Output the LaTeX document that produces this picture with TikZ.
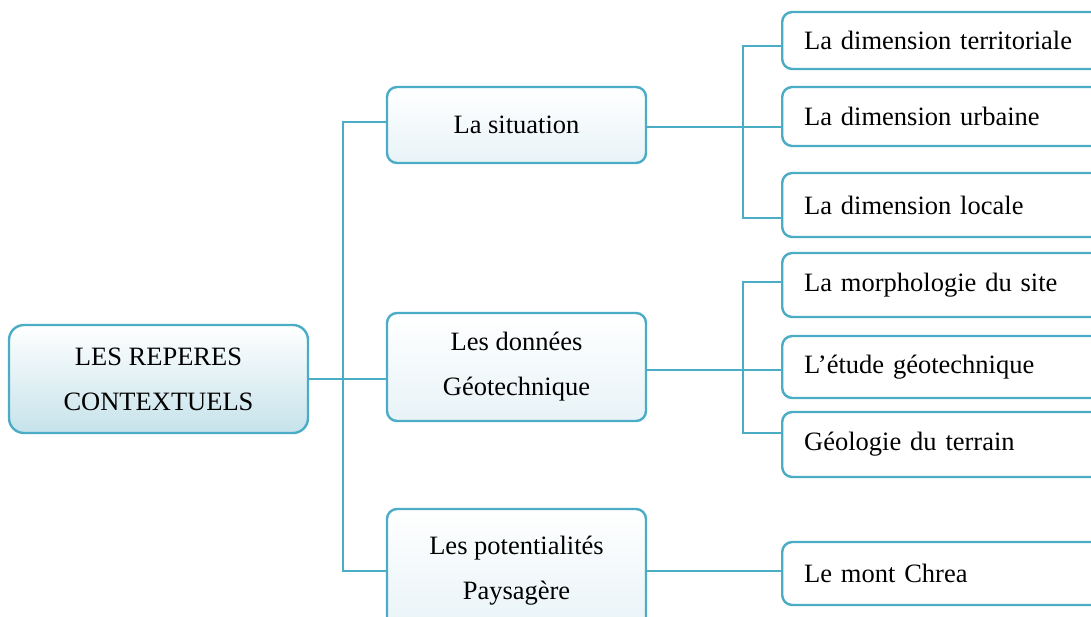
\documentclass[tikz,border=0pt]{standalone}
\usepackage{fontspec}
\setmainfont{Liberation Serif}
\usepackage{xcolor}
\usepackage{tikz}
\usetikzlibrary{positioning,calc}
\definecolor{LineBlue}{HTML}{4BACC6}
\definecolor{RootBot}{HTML}{C6E2EB}
\definecolor{MidBot}{HTML}{E8F3F7}
\definecolor{TextDark}{HTML}{000000}

\begin{document}
\begin{tikzpicture}[
  x=0.5pt, y=-0.5pt,
  every node/.style={font=\fontsize{13.25}{22.5}\selectfont, text=TextDark},
  RT/.style={draw=LineBlue, line width=1.2pt, rounded corners=7.5pt,
             top color=white, bottom color=RootBot,
             minimum width=149.5pt, minimum height=54pt,
             align=center, inner sep=0pt},
  MD/.style={draw=LineBlue, line width=1.2pt, rounded corners=5pt,
             top color=white, bottom color=MidBot,
             minimum width=129.5pt, align=center, inner sep=0pt},
  LF/.style={draw=LineBlue, line width=1.2pt, rounded corners=5pt,
             fill=white, anchor=west, text width=148pt,
             inner xsep=11pt, inner ysep=0pt, align=left},
  lnk/.style={draw=LineBlue, line width=1pt},
]
  \path[use as bounding box, clip] (0,0) rectangle (1091,616);

  % Main nodes
  \node[RT] (root) at (158.5,379) {LES REPERES\\CONTEXTUELS};

  \node[MD, minimum height=38pt] (sit) at (516.5,125) {La situation};
  \node[MD, minimum height=54pt] (don) at (516.5,367) {Les données\\Géotechnique};
  \node[MD, minimum height=62pt] (pot) at (516.5,571) {Les potentialités\\Paysagère};

  \node[LF, minimum height=28.5pt] (ter) at (781,40.5)  {La dimension territoriale};
  \node[LF, minimum height=29.5pt] (urb) at (781,116.5) {La dimension urbaine};
  \node[LF, minimum height=32pt]   (loc) at (781,205)   {La dimension locale};

  \node[LF, minimum height=32pt]   (mor) at (781,285)   {La morphologie du site};
  \node[LF, minimum height=31pt]   (etu) at (781,367)   {L’étude géotechnique};
  \node[LF, minimum height=32.5pt] (geo) at (781,444.5) {Géologie du terrain};

  \node[LF, minimum height=31.5pt] (chr) at (781,573.5) {Le mont Chrea};

  % Branch helper coordinates
  \coordinate (trunk) at (343,379);
  \coordinate (jSit)  at (743,123);
  \coordinate (jDon)  at (743,364);

  % Connectors
  \draw[lnk] (root.east) -- (root.east -| don.west);
  \draw[lnk] ([yshift=1.5pt]sit.west) -| (trunk) |- (pot.west);

  \draw[lnk] ([yshift=-1pt]sit.east) -- ([yshift=-1pt]sit.east -| urb.west);
  \draw[lnk] ([yshift=-2.75pt]ter.west) -| (jSit) |- ([yshift=-6.5pt]loc.west);

  \draw[lnk] ([yshift=-1.5pt]don.east) -- ([yshift=-1.5pt]don.east -| etu.west);
  \draw[lnk] ([yshift=1.5pt]mor.west) -| (jDon) |- ([yshift=5.75pt]geo.west);

  \draw[lnk] (pot.east) -- (pot.east -| chr.west);

\end{tikzpicture}
\end{document}
